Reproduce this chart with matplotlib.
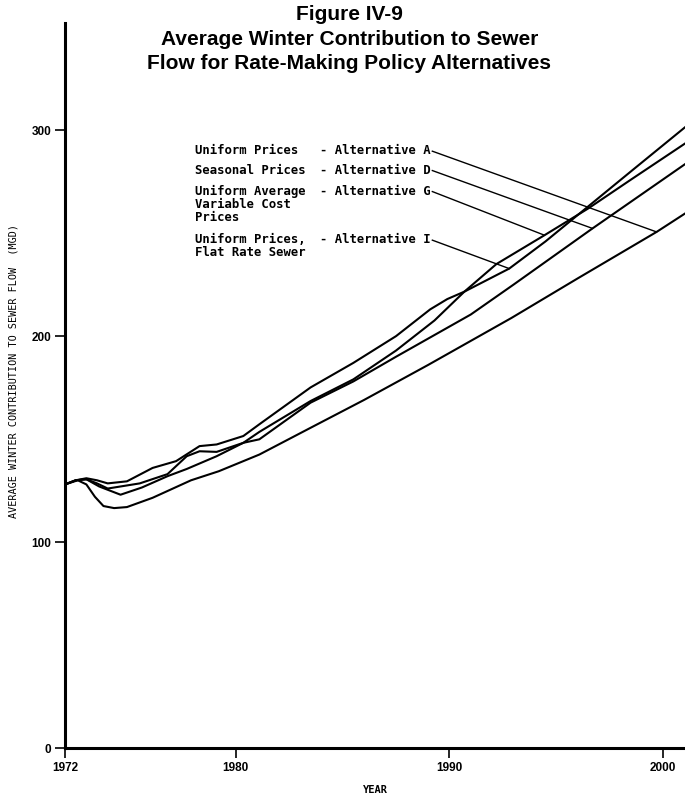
import matplotlib

matplotlib.use("Agg")
import matplotlib.pyplot as plt
import numpy as np

# Alternative A - uniform prices (lowest at the end, dips after 1973)
years_a = [1972, 1972.6, 1973.0, 1973.4, 1973.8, 1974.3, 1974.9, 1976.1, 1977.9,
           1979.2, 1981.1, 1983.5, 1986, 1989, 1992.9, 1996, 1999.7, 2001.1]
flow_a = [128, 130, 128, 122, 117.5, 116.5, 117, 121.5, 130,
          134.4, 142.5, 155.5, 169, 186, 208.8, 228, 250.6, 260]

# Alternative D - seasonal prices
years_d = [1972, 1972.5, 1973, 1973.6, 1974.6, 1975.6, 1976.8, 1977.7, 1979.1,
           1980.35, 1981.1, 1983.5, 1985.5, 1987.5, 1991.0, 1993, 1996.7, 2001.1]
flow_d = [128, 130, 130.5, 127, 123, 126.5, 132, 135.5, 141.7,
          148.2, 149.9, 167.7, 178, 190, 210.5, 225, 252.3, 284]

# Alternative G - uniform average variable cost prices
years_g = [1972, 1972.5, 1973, 1973.5, 1974, 1975.5, 1976.8, 1977.7, 1978.3,
           1979.1, 1980.35, 1981.1, 1983.5, 1985.5, 1987.5, 1989.3, 1990.7,
           1992.2, 1994.45, 1996.5, 1998.5, 2001.1]
flow_g = [128, 130, 130.5, 128.5, 126, 128.5, 133, 141.7, 144.1,
          143.8, 148.2, 153.5, 168.5, 179, 193, 207.6, 221.6,
          235, 249, 262, 276, 294]

# Alternative I - uniform prices, flat rate sewer
years_i = [1972, 1972.5, 1973, 1973.5, 1974, 1974.9, 1976.1, 1977.2, 1978.3,
           1979.1, 1980.35, 1981.1, 1983.5, 1985.5, 1987.5, 1989.1, 1989.9,
           1990.7, 1992.8, 1994.5, 1996.5, 1998.5, 2001.1]
flow_i = [128, 130, 131, 130, 128.5, 129.5, 136, 139.3, 146.6,
          147.4, 151.5, 157.2, 175.1, 187, 200, 213, 218,
          221.6, 232.8, 246, 263, 280, 302]

label_left = ["Uniform Prices", "Seasonal Prices",
              "Uniform Average\nVariable Cost\nPrices",
              "Uniform Prices,\nFlat Rate Sewer"]
label_right = ["- Alternative A", "- Alternative D",
               "- Alternative G", "- Alternative I"]
leader_year = [1999.7, 1996.7, 1994.45, 1992.8]

x_ticks = [1972, 1980, 1990, 2000]
y_ticks = [0, 100, 200, 300]

curves = [(years_a, flow_a), (years_d, flow_d), (years_g, flow_g), (years_i, flow_i)]

fig = plt.figure(figsize=(6.85, 8.10), dpi=100)
ax = fig.add_axes([0.0949, 0.0765, 0.9051, 0.895])

for xs, ys in curves:
    ax.plot(xs, ys, color="black", lw=1.5, solid_capstyle="round")

# labels with leader lines
row_vals = [293.1, 283.7, 273.5, 249.9]
mono = dict(family="DejaVu Sans Mono", fontweight="bold", fontsize=8.8)
for k in range(4):
    ax.text(1978.1, row_vals[k], label_left[k], ha="left", va="top",
            linespacing=1.0, transform=ax.transData, **mono)
    ax.text(1983.94, row_vals[k], label_right[k], ha="left", va="top",
            transform=ax.transData, **mono)
    xs, ys = curves[k]
    y_end = np.interp(leader_year[k], xs, ys)
    ax.plot([1989.2, leader_year[k]], [row_vals[k] - 3.3, y_end],
            color="black", lw=1.0)

ax.set_xlim(1972, 2001.03)
ax.set_ylim(0, 352)
ax.spines["top"].set_visible(False)
ax.spines["right"].set_visible(False)
ax.spines["left"].set_linewidth(2.2)
ax.spines["bottom"].set_linewidth(2.2)
ax.set_xticks(x_ticks)
ax.set_yticks(y_ticks)
ax.tick_params(axis="both", direction="out", length=7, width=1.2, pad=3)
for lab in ax.get_xticklabels() + ax.get_yticklabels():
    lab.set_family("Liberation Sans")
    lab.set_fontweight("bold")
    lab.set_fontsize(8.5)

ax.set_xlabel("YEAR", family="DejaVu Sans Mono", fontweight="bold",
              fontsize=7.5, labelpad=8)
ax.set_ylabel("AVERAGE WINTER CONTRIBUTION TO SEWER FLOW  (MGD)",
              family="DejaVu Sans Mono", fontsize=7.3, labelpad=9)
ax.yaxis.label.set_y(0.52)

fig.text(0.51, 0.994, "Figure IV-9\nAverage Winter Contribution to Sewer\n"
         "Flow for Rate-Making Policy Alternatives",
         ha="center", va="top", family="Liberation Sans", fontweight="bold",
         fontsize=15, linespacing=1.38)

fig.savefig("out.png", dpi=100)
